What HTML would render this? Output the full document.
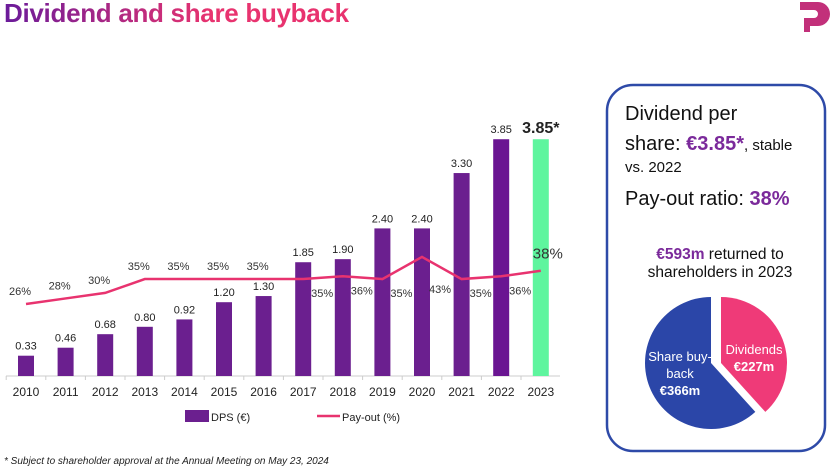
<!DOCTYPE html>
<html><head><meta charset="utf-8"><style>
body{margin:0;width:833px;height:471px;background:#fff;overflow:hidden;font-family:"Liberation Sans",sans-serif;position:relative}
#title{position:absolute;left:4px;top:-2px;font-size:26px;font-weight:bold;background:linear-gradient(90deg,#6a1b9a,#e8336f 60%);-webkit-background-clip:text;color:transparent;white-space:nowrap;letter-spacing:-0.3px}
svg{position:absolute;left:0;top:0}
</style></head><body>
<div id="title">Dividend and share buyback</div>
<svg width="833" height="471" id="chart">
<g>
<path d="M800 2 h18 a12 12 0 0 1 0 24 h-8 v6 h-6 v-14 h10 a4 4 0 0 0 0-8 h-14z" fill="#c2307a"/>
</g>
<g>
<rect x="607" y="85" width="218" height="366" rx="26" fill="#fff" stroke="#2e4aa8" stroke-width="2.5"/>
<text x="625" y="120" font-size="20" fill="#111">Dividend per</text>
<text x="625" y="150" font-size="20" fill="#111">share: <tspan font-weight="bold" fill="#7b2a9b">€3.85*</tspan><tspan font-size="15">, stable</tspan></text>
<text x="625" y="172" font-size="15" fill="#111">vs. 2022</text>
<text x="625" y="205" font-size="20" fill="#111">Pay-out ratio: <tspan font-weight="bold" fill="#7b2a9b">38%</tspan></text>
<text x="720" y="259" font-size="15.5" fill="#111" text-anchor="middle"><tspan font-weight="bold" fill="#7b2a9b">€593m</tspan> returned to</text>
<text x="720" y="277" font-size="15.5" fill="#111" text-anchor="middle">shareholders in 2023</text>
</g>
<g id="pie"></g>
<g id="plot"></g>
<g>
<rect x="185" y="410" width="24" height="12" fill="#6b1f8f"/>
<text x="211" y="421" font-size="11" fill="#222">DPS (€)</text>
<line x1="317" y1="416" x2="340" y2="416" stroke="#e8336f" stroke-width="2.5"/>
<text x="342" y="421" font-size="11" fill="#222">Pay-out (%)</text>
</g>
<text x="4" y="464" font-size="10" font-style="italic" fill="#222">*  Subject to shareholder approval at the Annual Meeting on May 23, 2024</text>
</svg>
<script>
const years=["2010","2011","2012","2013","2014","2015","2016","2017","2018","2019","2020","2021","2022","2023"];
const dps=[0.33,0.46,0.68,0.80,0.92,1.20,1.30,1.85,1.90,2.40,2.40,3.30,3.85,3.85];
const dpsLabels=["0.33","0.46","0.68","0.80","0.92","1.20","1.30","1.85","1.90","2.40","2.40","3.30","3.85","3.85*"];
const payout=[26,28,30,35,35,35,35,35,36,35,43,35,36,38];
const payoutLabels=["26%","28%","30%","35%","35%","35%","35%","35%","36%","35%","43%","35%","36%","38%"];
const pieValues=[227,366];
const pieLabels=[["Dividends","€227m"],["Share buy-","back","€366m"]];

const NS="http://www.w3.org/2000/svg";
const plot=document.getElementById('plot');
function mk(t,a,p){const e=document.createElementNS(NS,t);for(const k in a)e.setAttribute(k,a[k]);(p||plot).appendChild(e);return e;}
const base=376,x0=26,step=39.6;
const xS=i=>x0+i*step;
const yD=v=>base-v*61.5;
const yP=p=>base-p*2.77;
const ax=mk('line',{x1:6,y1:base,x2:560,y2:base,stroke:'#ccc','stroke-width':1});


years.forEach((y,i)=>{
  const tk=mk('line',{x1:xS(i)-step/2,y1:base,x2:xS(i)-step/2,y2:base+4,stroke:'#ccc'});
  
  
  const last=i===years.length-1;
  const b=mk('rect',{x:xS(i)-8,y:yD(dps[i]),width:16,height:base-yD(dps[i]),fill:last?'#5ef59e':(i===12?'#6a1592':'#6b1f8f')});
  
  
  const l=mk('text',{x:xS(i),y:yD(dps[i])-6,'font-size':last?16:11,'font-weight':last?'bold':'normal','text-anchor':'middle',fill:'#222'});
  l.textContent=dpsLabels[i];
  
  
  const t=mk('text',{x:xS(i),y:396,'font-size':12,'text-anchor':'middle',fill:'#222'});
  t.textContent=y;
  
  
});
const pl=mk('polyline',{points:payout.map((p,i)=>xS(i)+','+yP(p)).join(' '),fill:'none',stroke:'#e8336f','stroke-width':2.5});


payout.forEach((p,i)=>{
  let a;
  if(i===years.length-1)a={x:xS(i)+7,y:yP(p)-12,'font-size':15};
  else if(i<7)a={x:xS(i)-6,y:yP(p)-9,'font-size':11};
  else if(i===10)a={x:xS(i)+18,y:yP(p)+36,'font-size':11};
  else a={x:xS(i)+19,y:yP(p)+18,'font-size':11};
  a['text-anchor']='middle';a.fill='#333';
  const t=mk('text',a);
  t.textContent=payoutLabels[i];
  
  
});
// pie
const pie=document.getElementById('pie');
const tot=pieValues[0]+pieValues[1];
const cx=711,cy=363,r=66;
function arc(a0,a1,dx){const p=a=>[cx+dx+r*Math.sin(a),cy-r*Math.cos(a)];const s=p(a0),e=p(a1);const lg=a1-a0>Math.PI?1:0;return `M${cx+dx},${cy} L${s[0]},${s[1]} A${r},${r} 0 ${lg} 1 ${e[0]},${e[1]}Z`;}
const aSplit=pieValues[0]/tot*2*Math.PI;
const pk=mk('path',{d:arc(0,aSplit,10),fill:'#ef3a78'},pie);


const bl=mk('path',{d:arc(aSplit,2*Math.PI,0),fill:'#2b46a8'},pie);


pieLabels[0].forEach((s,k)=>{const t=mk('text',{x:754,y:354+k*17,'font-size':13,'font-weight':k?'bold':'normal','text-anchor':'middle',fill:'#fff'},pie);t.textContent=s;

});
pieLabels[1].forEach((s,k)=>{const t=mk('text',{x:680,y:361+k*17,'font-size':13,'font-weight':k==2?'bold':'normal','text-anchor':'middle',fill:'#fff'},pie);t.textContent=s;

});
</script>
</body></html>
